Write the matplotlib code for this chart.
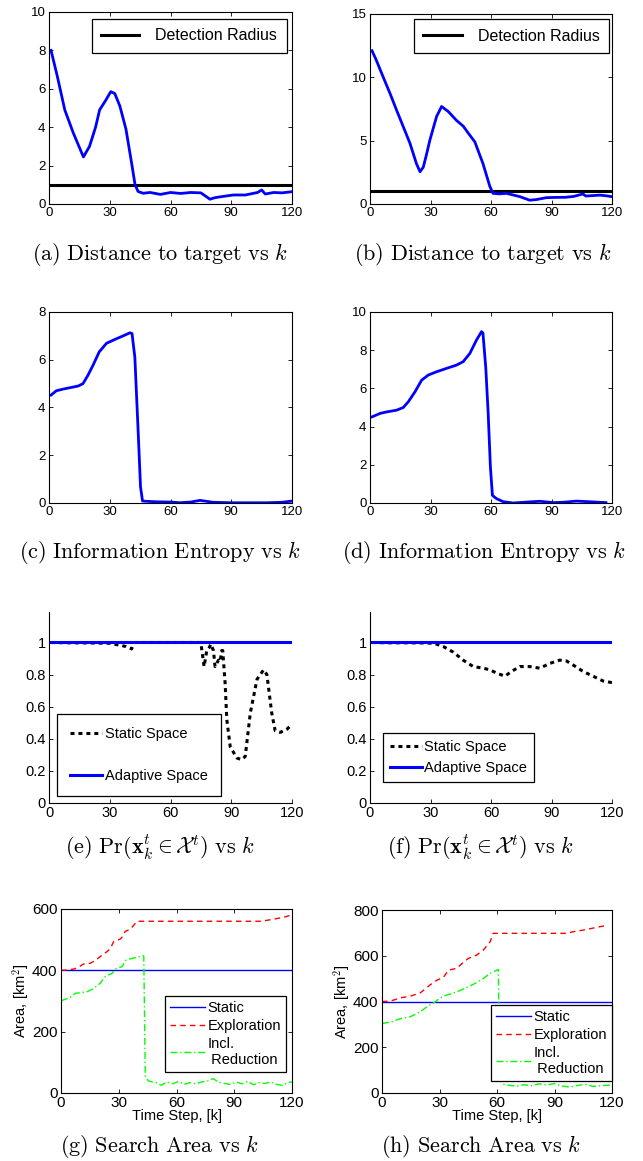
import numpy as np
import matplotlib
matplotlib.use('Agg')
import matplotlib.pyplot as plt

plt.rcParams['font.family'] = ['Liberation Sans', 'DejaVu Sans']
plt.rcParams['mathtext.fontset'] = 'cm'

# ---- data ----
# (a) distance to target, case 1
k_a = [1, 4, 7.8, 12, 16, 17, 20, 23, 25, 28, 30.5, 32.5, 35, 38, 41, 42.5, 44, 46.5,
       50, 55, 60, 65, 70, 75, 79.5, 82, 85, 91, 97, 103, 105, 106.8, 111, 115, 120]
dist_a = [8.0, 6.7, 4.9, 3.7, 2.7, 2.45, 3.0, 4.0, 4.9, 5.4, 5.85, 5.75, 5.1, 3.9, 2.0, 1.0,
          0.65, 0.56, 0.6, 0.5, 0.6, 0.55, 0.6, 0.58, 0.25, 0.33, 0.38, 0.47, 0.47, 0.6,
          0.73, 0.52, 0.6, 0.58, 0.64]
# (b) distance to target, case 2
k_b = [1, 3, 6.6, 10, 13.2, 16.5, 19.8, 23, 24.8, 26.4, 28, 29.7, 33, 35.5, 38.8, 42.9,
       46.2, 48.7, 52, 56, 59.4, 61, 64, 67.7, 74.3, 79.2, 82.5, 87.5, 92, 97, 101, 105.6,
       107, 110, 114, 117, 120]
dist_b = [12.1, 11.4, 10.0, 8.7, 7.4, 6.1, 4.8, 3.2, 2.55, 2.9, 3.9, 5.05, 6.9, 7.7, 7.3,
          6.6, 6.15, 5.6, 4.9, 3.2, 1.4, 0.84, 0.8, 0.84, 0.58, 0.3, 0.35, 0.5, 0.52, 0.53,
          0.6, 0.79, 0.63, 0.66, 0.7, 0.65, 0.58]
detection_radius = 1.0

# (c) information entropy, case 1
k_c = [1, 3.6, 6.9, 11, 14.4, 16.8, 19.3, 21.8, 24.8, 28.4, 32.5, 36.6, 40, 41, 42.4, 44,
       45.2, 46.2, 53, 60, 64.7, 70, 74.6, 81, 90, 107.6, 115, 120]
ent_c = [4.52, 4.7, 4.77, 4.84, 4.9, 5.0, 5.36, 5.78, 6.33, 6.69, 6.85, 7.0, 7.13, 7.1, 6.1,
         3.05, 0.67, 0.08, 0.05, 0.04, 0.01, 0.04, 0.11, 0.03, 0.01, 0.01, 0.03, 0.08]
# (d) information entropy, case 2
k_d = [1, 5, 8.3, 13.2, 16.5, 19, 22.3, 25.6, 28.9, 33, 38, 42.9, 46.2, 49.5, 52.8, 55.3,
       56, 57.4, 58.6, 59.7, 60.7, 62.7, 66, 71, 78, 84.2, 90.8, 96, 102.3, 110, 117]
ent_d = [4.51, 4.69, 4.77, 4.86, 5.0, 5.3, 5.82, 6.43, 6.7, 6.87, 7.05, 7.22, 7.4, 7.83,
         8.53, 8.97, 8.9, 7.1, 4.7, 1.9, 0.4, 0.23, 0.07, 0.0, 0.05, 0.09, 0.02, 0.04, 0.1,
         0.06, 0.02]

# (e)/(f) probability target inside space
k_adapt = [1, 120]
p_adapt = [1, 1]
k_e = [1, 10, 20, 30, 35, 38, 40.8, 42, 75, 75.4, 76.6, 77.9, 79.2, 79.9, 81.2, 82, 83.7,
       84.5, 85.3, 85.8, 87, 87.8, 89.5, 92.8, 95.2, 96.9, 99.4, 102.7, 106, 107.6, 110,
       111.7, 114.2, 117.5, 120]
p_e = [1, 0.998, 0.997, 0.995, 0.983, 0.975, 0.96, 1.0, 1.0, 0.96, 0.85, 0.95, 0.97, 0.99,
       0.95, 0.85, 0.89, 0.88, 0.95, 0.95, 0.74, 0.52, 0.35, 0.28, 0.27, 0.29, 0.56, 0.77,
       0.83, 0.80, 0.56, 0.45, 0.44, 0.46, 0.49]
k_f = [1, 10, 20, 25, 29.7, 33, 36.3, 41.3, 46.2, 51.2, 56.1, 59.4, 62.7, 66.9, 70.2, 74.3,
       79.2, 84.2, 89.2, 94.1, 97.4, 100.7, 105.6, 110.6, 115.6, 120]
p_f = [1, 0.998, 0.998, 0.997, 0.996, 0.99, 0.975, 0.94, 0.89, 0.85, 0.84, 0.83, 0.81, 0.79,
       0.82, 0.85, 0.85, 0.84, 0.87, 0.89, 0.885, 0.86, 0.82, 0.79, 0.76, 0.75]
prob_ticks = [0, 0.2, 0.4, 0.6, 0.8, 1]
prob_ticklabels = ['0', '0.2', '0.4', '0.6', '0.8', '1']

# (g)/(h) search area
k_static = [0, 120]
area_static = [400, 400]
k_expl_g = [0, 3, 6.6, 9, 11.8, 15.2, 18, 20.4, 23.9, 25.5, 27.4, 30.8, 32, 33.4, 36, 37.5,
            39.5, 60, 80, 103.5, 107, 110.5, 115.7, 120]
area_expl_g = [400, 401, 404, 410, 421, 423, 433, 445, 461, 470, 494, 502, 510, 527, 534,
               545, 560, 560, 560, 560, 563, 567, 573, 581]
k_red_g = [0, 2.5, 4.8, 7.4, 10, 13.5, 17, 20.4, 23, 26.5, 28.2, 31.7, 33.4, 35, 37.7, 40,
           42, 43, 43.3, 43.8, 45.5, 49.9, 52, 55, 58, 61, 64, 67, 70, 73, 76, 79, 82, 85,
           88, 91, 94, 97, 100, 103, 106, 109, 112, 115, 118, 120]
area_red_g = [301, 306, 312, 325, 327, 330, 341, 358, 380, 390, 404, 412, 432, 436, 440, 443,
              447, 447, 292, 52, 39, 33, 25, 36, 30, 38, 28, 34, 30, 36, 39, 47, 35, 31, 28,
              36, 30, 38, 27, 34, 31, 36, 28, 25, 34, 36]
k_expl_h = [0, 3, 6, 9.5, 14.7, 20, 25, 28.6, 32, 34.7, 39, 40.8, 45, 49.4, 52.9, 56.4, 58,
            70, 85, 96.3, 99.7, 105, 111.9, 118]
area_expl_h = [400, 401, 406, 416, 423, 438, 472, 493, 505, 537, 545, 559, 588, 603, 625,
               661, 698, 698, 698, 698, 705, 712, 724, 734]
k_red_h = [0, 5.2, 9.5, 14.7, 20, 23.4, 27.7, 30.3, 33.8, 39, 44.2, 48.6, 52.9, 56.4, 60.7,
           61, 61.6, 63.3, 66, 70, 74, 78, 82, 86, 90, 94, 98, 102, 106, 110, 114, 118, 120]
area_red_h = [304, 311, 325, 333, 355, 377, 398, 416, 428, 442, 461, 479, 501, 523, 540, 318,
              55, 38, 34, 30, 36, 32, 40, 35, 41, 30, 26, 33, 38, 29, 32, 34, 36]

k_ticks = [0, 30, 60, 90, 120]

captions = [
    r'$\mathrm{(a)\ Distance\ to\ target\ vs\ }k$',
    r'$\mathrm{(b)\ Distance\ to\ target\ vs\ }k$',
    r'$\mathrm{(c)\ Information\ Entropy\ vs\ }k$',
    r'$\mathrm{(d)\ Information\ Entropy\ vs\ }k$',
    r'$\mathrm{(e)\ Pr}(\mathbf{x}_k^t \in \mathcal{X}^t)\ \mathrm{vs}\ k$',
    r'$\mathrm{(f)\ Pr}(\mathbf{x}_k^t \in \mathcal{X}^t)\ \mathrm{vs}\ k$',
    r'$\mathrm{(g)\ Search\ Area\ vs\ }k$',
    r'$\mathrm{(h)\ Search\ Area\ vs\ }k$',
]

# ---- layout ----
W, H = 643, 1161
fig = plt.figure(figsize=(W / 100, H / 100), dpi=100)


def px_axes(l, t, r, b):
    return fig.add_axes([l / W, 1 - b / H, (r - l) / W, (b - t) / H])


def style(ax, fs, boxed=True):
    ax.tick_params(direction='in', length=3, width=0.6, labelsize=fs, pad=2.5,
                   top=boxed, right=boxed)
    for s in ax.spines.values():
        s.set_linewidth(0.8)
    if not boxed:
        ax.spines['top'].set_visible(False)
        ax.spines['right'].set_visible(False)
    ax.set_xlim(0, 120)
    ax.set_xticks(k_ticks)


def frame(leg):
    leg.get_frame().set_edgecolor('black')
    leg.get_frame().set_linewidth(0.9)


ax_a = px_axes(49, 12, 292, 204)
ax_b = px_axes(370, 14, 612, 204)
ax_c = px_axes(49, 312, 292, 503)
ax_d = px_axes(370, 312, 612, 503)
ax_e = px_axes(49, 612, 292, 803)
ax_f = px_axes(370, 612, 612, 803)
ax_g = px_axes(61, 909, 292, 1093)
ax_h = px_axes(382, 910, 612, 1093)

# (a), (b)
for ax, k, d, ymax, anchor in [(ax_a, k_a, dist_a, 10, (0.979, 0.964)),
                               (ax_b, k_b, dist_b, 15, (0.988, 0.974))]:
    ax.plot([0, 120], [detection_radius, detection_radius], color='black', lw=2.2,
            label='Detection Radius')
    ax.plot(k, d, color='#0000ff', lw=2.0)
    style(ax, 9.5)
    ax.set_ylim(0, ymax)
    ax.set_yticks(np.arange(0, ymax + 0.1, 2 if ymax == 10 else 5))
    leg = ax.legend(loc='upper right', bbox_to_anchor=anchor, borderaxespad=0,
                    fontsize=11.5, handlelength=2.4, handletextpad=1.0, borderpad=0.6,
                    fancybox=False, framealpha=1)
    frame(leg)

# (c), (d)
for ax, k, h, ymax in [(ax_c, k_c, ent_c, 8), (ax_d, k_d, ent_d, 10)]:
    ax.plot(k, h, color='#0000ff', lw=2.0)
    style(ax, 9.5)
    ax.set_ylim(0, ymax)
    ax.set_yticks(np.arange(0, ymax + 0.1, 2))

# (e), (f)
for ax, k, p, anchor, lsp, pad in [(ax_e, k_e, p_e, (0.033, 0.037), 1.9, 0.2),
                                   (ax_f, k_f, p_f, (0.054, 0.11), 0.45, 0.1)]:
    ax.plot(k, p, color='black', lw=2.2, dashes=(1.3, 1.3), label='Static Space')
    ax.plot(k_adapt, p_adapt, color='#0000ff', lw=2.2, label='Adaptive Space')
    style(ax, 10.5, boxed=False)
    ax.set_ylim(0, 1.19)
    ax.set_yticks(prob_ticks)
    ax.set_yticklabels(prob_ticklabels)
    leg = ax.legend(loc='lower left', bbox_to_anchor=anchor, borderaxespad=0,
                    fontsize=10.5, handlelength=2.2, handletextpad=pad, labelspacing=lsp,
                    borderpad=0.5 if lsp < 1 else 0.9, fancybox=False, framealpha=1)
    frame(leg)

# (g), (h)
for ax, ke, ae, kr, ar, ymax, anchor in [
        (ax_g, k_expl_g, area_expl_g, k_red_g, area_red_g, 600, (0.974, 0.114)),
        (ax_h, k_expl_h, area_expl_h, k_red_h, area_red_h, 800, (1.0, 0.066))]:
    ax.plot(k_static, area_static, color='#0000ff', lw=1.0, label='Static')
    ax.plot(ke, ae, color='#ff0000', lw=1.0, dashes=(4, 3), label='Exploration')
    ax.plot(kr, ar, color='#00ff00', lw=1.0, dashes=(5, 2, 1, 2),
            label='Incl.\n Reduction')
    style(ax, 11)
    ax.set_ylim(0, ymax)
    ax.set_yticks(np.arange(0, ymax + 1, 200))
    ax.set_xlabel('Time Step, [k]', fontsize=10.5, labelpad=-1)
    ax.set_ylabel(r'Area, [km$^2$]', fontsize=10.5, labelpad=1)
    leg = ax.legend(loc='lower right', bbox_to_anchor=anchor, borderaxespad=0,
                    fontsize=10.5, handlelength=2.4, handletextpad=0.15, labelspacing=0.25,
                    borderpad=0.35, fancybox=False, framealpha=1)
    frame(leg)

# captions
cap_pos = [(160, 254), (483, 254), (160, 552), (484, 552),
           (160, 847), (480, 847), (159, 1146), (481, 1146)]
for (cx, cy), txt in zip(cap_pos, captions):
    fig.text(cx / W, 1 - cy / H, txt, ha='center', va='center', fontsize=16)

fig.savefig('out.png', dpi=100)
